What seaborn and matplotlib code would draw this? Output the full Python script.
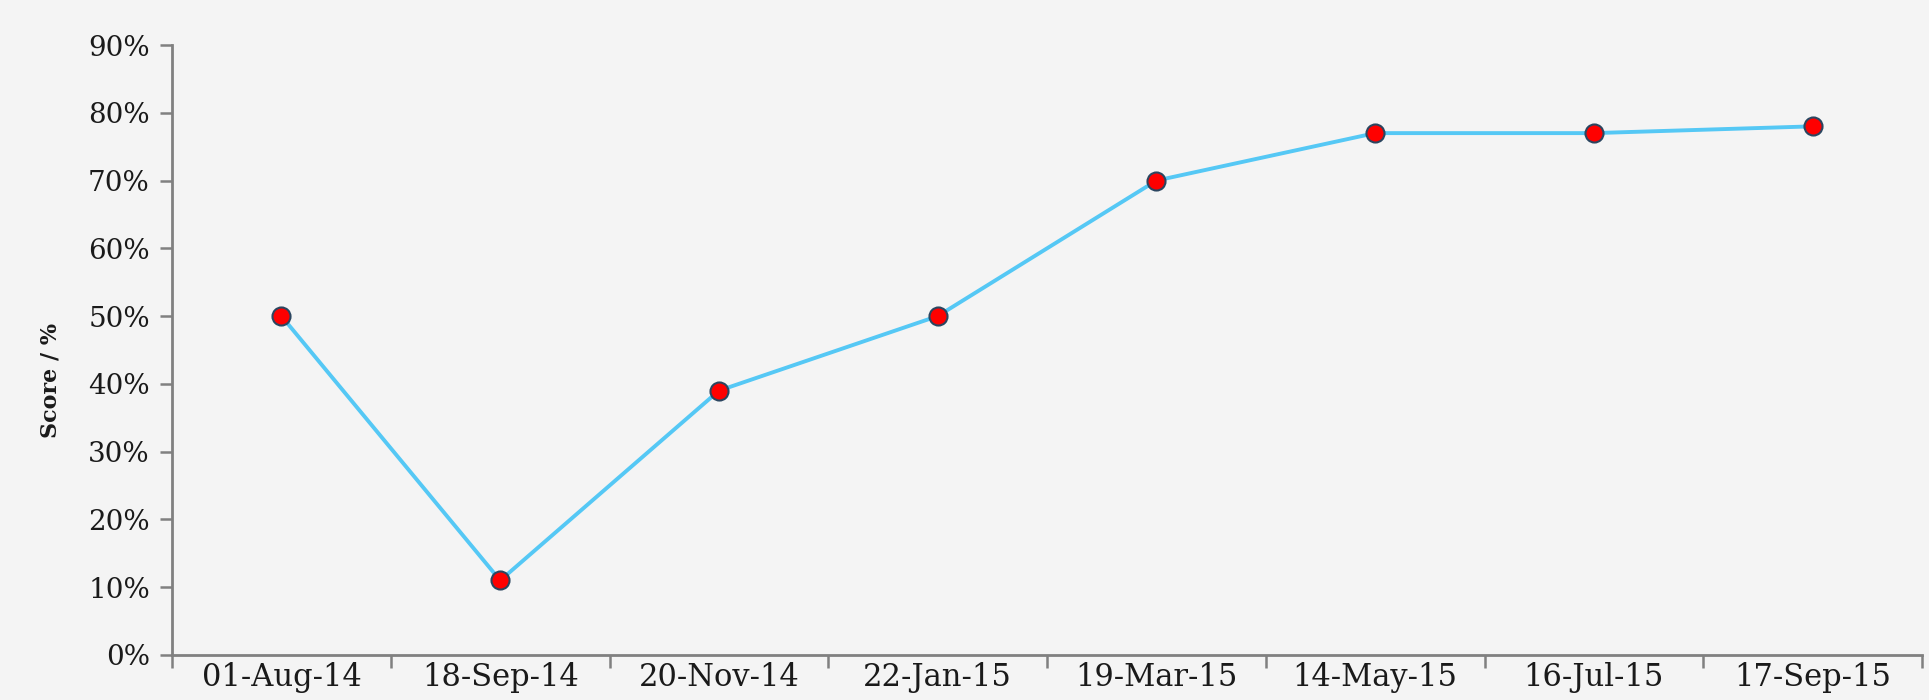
import matplotlib
matplotlib.use("Agg")
import matplotlib.pyplot as plt
import seaborn as sns
from matplotlib.ticker import FixedLocator, PercentFormatter

dates = ["01-Aug-14", "18-Sep-14", "20-Nov-14", "22-Jan-15",
         "19-Mar-15", "14-May-15", "16-Jul-15", "17-Sep-15"]
scores = [50, 11, 39, 50, 70, 77, 77, 78]

sns.set_style("white")
plt.rcParams['font.family'] = ['DejaVu Serif', 'Liberation Serif']

fig = plt.figure(figsize=(19.29, 7), dpi=100, facecolor="#f4f4f4")
ax = fig.add_axes([0.0892, 0.0643, 0.9072, 0.8714])
ax.set_facecolor("#f4f4f4")

sns.lineplot(x=dates, y=scores, sort=False, ax=ax, color="#55c8f5", linewidth=2.8,
             marker="o", markersize=13, markerfacecolor="#ff0000",
             markeredgecolor="#2b4660", markeredgewidth=1.5)

ax.set_xlim(-0.5, len(dates) - 0.5)
ax.set_ylim(0, 90)
ax.set_yticks(range(0, 91, 10))
ax.yaxis.set_major_formatter(PercentFormatter(decimals=0))

# category ticks sit between the labels, like in a spreadsheet chart
ax.set_xticks(range(len(dates)))
ax.set_xticklabels(dates)
ax.xaxis.set_minor_locator(FixedLocator([i - 0.5 for i in range(len(dates) + 1)]))
ax.tick_params(axis="x", which="major", length=0, labelsize=22, pad=5, colors="#1a1a1a")
ax.tick_params(axis="x", which="minor", length=9, width=1.8, color="#808080", direction="out", bottom=True)
ax.tick_params(axis="y", length=9, width=1.8, color="#808080", labelsize=20, pad=7,
               direction="out", left=True, labelcolor="#1a1a1a")

for side in ["top", "right"]:
    ax.spines[side].set_visible(False)
for side in ["left", "bottom"]:
    ax.spines[side].set_color("#808080")
    ax.spines[side].set_linewidth(2)

ax.set_xlabel("")
ax.set_ylabel("Score / %", fontsize=16, fontweight="bold", color="#1a1a1a")
ax.yaxis.set_label_coords(-0.063, 0.45)

fig.savefig("out.png", dpi=100, facecolor=fig.get_facecolor())
